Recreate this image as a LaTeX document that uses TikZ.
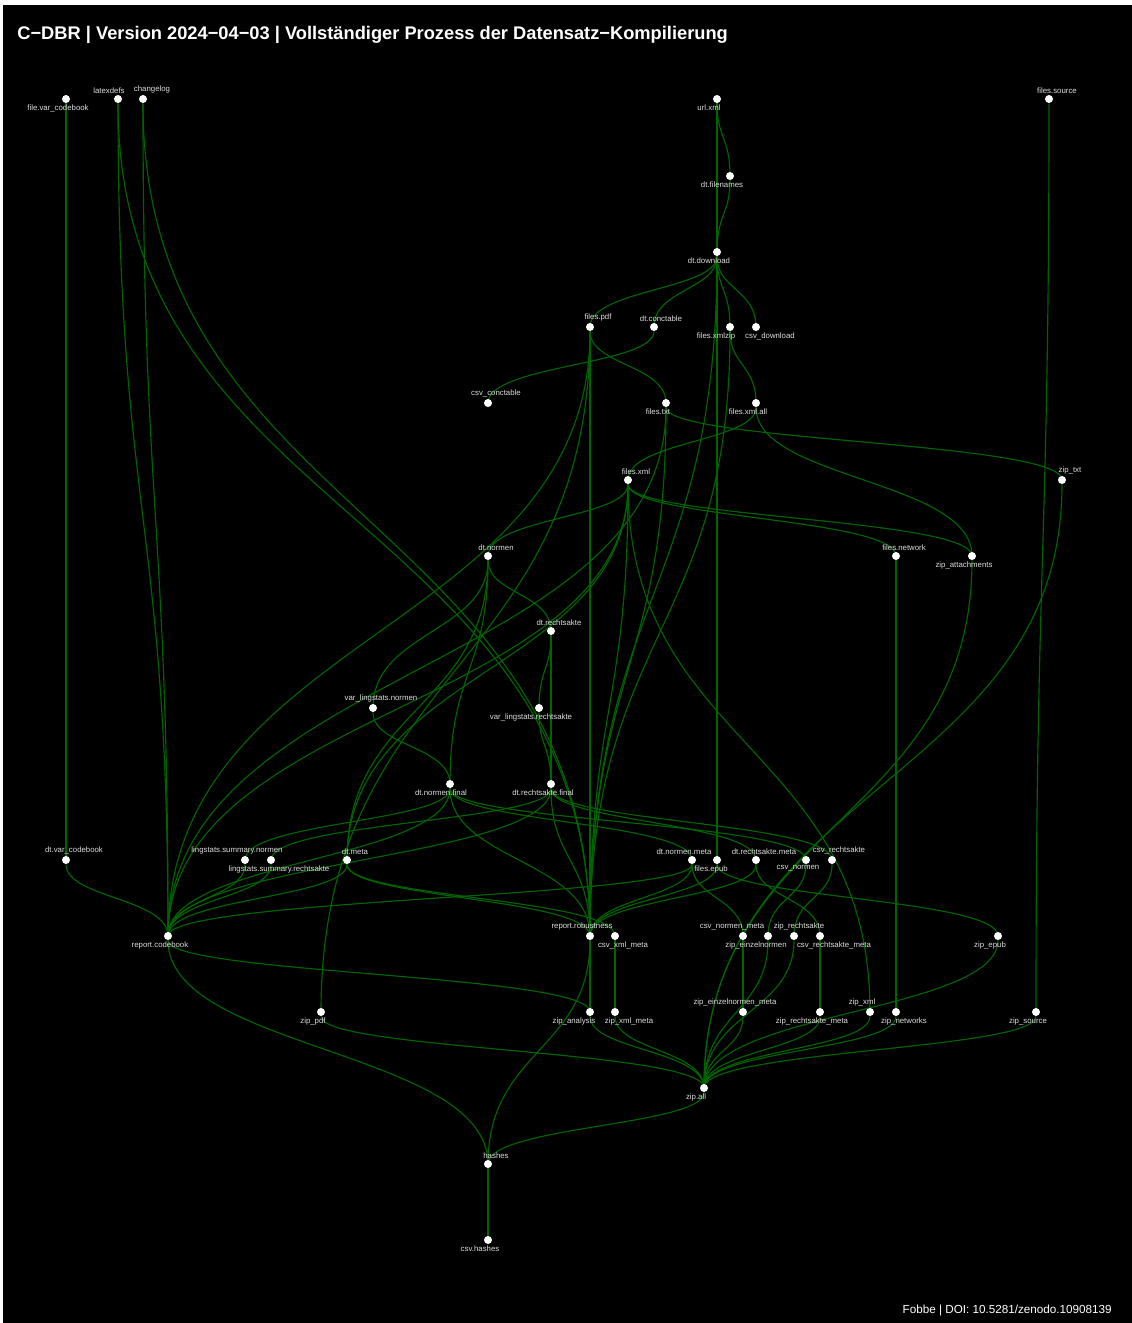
\documentclass[tikz,border=0pt]{standalone}
\usepackage{fontspec}
\setmainfont{Liberation Sans}
\usetikzlibrary{calc,backgrounds}

\definecolor{edgegreen}{RGB}{0,100,0}
\definecolor{labgrey}{RGB}{222,222,222}

\tikzset{
  dot/.style={circle, fill=white, inner sep=0pt, minimum size=0.16cm},
  lbl/.style={text=labgrey, font=\fontsize{4.45}{5}\selectfont, inner sep=0.3pt},
  tagup/.style 2 args={label={[lbl, xshift=#1*0.02cm]above:#2}},
  tagdn/.style 2 args={label={[lbl, xshift=#1*0.02cm]below:#2}},
  diag/.style={to path={let \p1=(\tikztostart), \p2=(\tikztotarget),
      \p3=($(\p1)!0.5!(\p2)$) in .. controls (\x1,\y3) and (\x2,\y3) .. (\p2)}},
  link/.style={draw=edgegreen, line width=0.65pt, diag}
}

\begin{document}
\begin{tikzpicture}[x=0.02cm, y=-0.02cm, label distance=0.01cm]
  % layer 1
  \node[dot, tagdn={-8}{file.var\_codebook}] (filevarcodebook) at (66,99) {};
  \node[dot, tagup={-9}{latexdefs}] (latexdefs) at (118,99) {};
  \node[dot, tagup={9}{changelog}] (changelog) at (143,99) {};
  \node[dot, tagdn={-8}{url.xml}] (urlxml) at (717,99) {};
  \node[dot, tagup={8}{files.source}] (filessource) at (1049,99) {};
  % download
  \node[dot, tagdn={-8}{dt.filenames}] (dtfilenames) at (730,176) {};
  \node[dot, tagdn={-8}{dt.download}] (dtdownload) at (717,252) {};
  \node[dot, tagup={8}{files.pdf}] (filespdf) at (590,327) {};
  \node[dot, tagup={7}{dt.conctable}] (dtconctable) at (654,327) {};
  \node[dot, tagdn={-14}{files.xmlzip}] (filesxmlzip) at (730,327) {};
  \node[dot, tagdn={14}{csv\_download}] (csvdownload) at (756,327) {};
  \node[dot, tagup={8}{csv\_conctable}] (csvconctable) at (488,403) {};
  \node[dot, tagdn={-8}{files.txt}] (filestxt) at (666,403) {};
  \node[dot, tagdn={-8}{files.xml.all}] (filesxmlall) at (756,403) {};
  \node[dot, tagup={8}{files.xml}] (filesxml) at (628,480) {};
  \node[dot, tagup={8}{zip\_txt}] (ziptxt) at (1062,480) {};
  % tables
  \node[dot, tagup={8}{dt.normen}] (dtnormen) at (488,556) {};
  \node[dot, tagup={8}{files.network}] (filesnetwork) at (896,556) {};
  \node[dot, tagdn={-8}{zip\_attachments}] (zipattach) at (972,556) {};
  \node[dot, tagup={8}{dt.rechtsakte}] (dtrechtsakte) at (551,631) {};
  \node[dot, tagup={8}{var\_lingstats.normen}] (varlsn) at (373,708) {};
  \node[dot, tagdn={-8}{var\_lingstats.rechtsakte}] (varlsr) at (539,708) {};
  \node[dot, tagdn={-9}{dt.normen.final}] (dtnormenfinal) at (450,784) {};
  \node[dot, tagdn={-8}{dt.rechtsakte.final}] (dtrechtsaktefinal) at (551,784) {};
  % meta and csv
  \node[dot, tagup={8}{dt.var\_codebook}] (dtvarcodebook) at (66,860) {};
  \node[dot, tagup={-8}{lingstats.summary.normen}] (lssn) at (245,860) {};
  \node[dot, tagdn={8}{lingstats.summary.rechtsakte}] (lssr) at (271,860) {};
  \node[dot, tagup={8}{dt.meta}] (dtmeta) at (347,860) {};
  \node[dot, tagup={-8}{dt.normen.meta}] (dtnormenmeta) at (692,860) {};
  \node[dot, tagdn={-6}{files.epub}] (filesepub) at (717,860) {};
  \node[dot, tagup={8}{dt.rechtsakte.meta}] (dtrechtsaktemeta) at (756,860) {};
  \node[dot, tagdn={-8}{csv\_normen}] (csvnormen) at (806,860) {};
  \node[dot, tagup={7}{csv\_rechtsakte}] (csvrechtsakte) at (832,860) {};
  % reports
  \node[dot, tagdn={-8}{report.codebook}] (reportcodebook) at (168,936) {};
  \node[dot, tagup={-8}{report.robustness}] (reportrobust) at (590,936) {};
  \node[dot, tagdn={8}{csv\_xml\_meta}] (csvxmlmeta) at (615,936) {};
  \node[dot, tagup={-11}{csv\_normen\_meta}] (csvnormenmeta) at (743,936) {};
  \node[dot, tagdn={-12}{zip\_einzelnormen}] (zipeinzelnormen) at (768,936) {};
  \node[dot, tagup={5}{zip\_rechtsakte}] (ziprechtsakte) at (794,936) {};
  \node[dot, tagdn={14}{csv\_rechtsakte\_meta}] (csvrechtsaktemeta) at (820,936) {};
  \node[dot, tagdn={-8}{zip\_epub}] (zipepub) at (998,936) {};
  % zip files
  \node[dot, tagdn={-8}{zip\_pdf}] (zippdf) at (321,1012) {};
  \node[dot, tagdn={-16}{zip\_analysis}] (zipanalysis) at (590,1012) {};
  \node[dot, tagdn={14}{zip\_xml\_meta}] (zipxmlmeta) at (615,1012) {};
  \node[dot, tagup={-8}{zip\_einzelnormen\_meta}] (zipeinzelnormenmeta) at (743,1012) {};
  \node[dot, tagdn={-8}{zip\_rechtsakte\_meta}] (ziprechtsaktemeta) at (820,1012) {};
  \node[dot, tagup={-8}{zip\_xml}] (zipxml) at (870,1012) {};
  \node[dot, tagdn={8}{zip\_networks}] (zipnetworks) at (896,1012) {};
  \node[dot, tagdn={-8}{zip\_source}] (zipsource) at (1036,1012) {};
  \node[dot, tagdn={-8}{zip.all}] (zipall) at (704,1088) {};
  \node[dot, tagup={8}{hashes}] (hashes) at (488,1164) {};
  \node[dot, tagdn={-8}{csv.hashes}] (csvhashes) at (488,1240) {};

  % title and credit
  \node[anchor=base west, inner sep=0pt, text=white,
        font=\fontsize{10.4}{12}\selectfont\bfseries] (title) at (17,39.5)
        {C−DBR | Version 2024−04−03 | Vollständiger Prozess der Datensatz−Kompilierung};
  \node[anchor=base east, inner sep=0pt, text=white,
        font=\fontsize{6.65}{8}\selectfont] (credit) at (1112,1313)
        {Fobbe | DOI: 10.5281/zenodo.10908139};

  \begin{scope}[on background layer]
    \useasboundingbox[fill=white] (0,0) rectangle (1132,1323);
    \fill[black] (3.5,5) rectangle (1132,1323);
    \path[link]
      (urlxml) edge (dtfilenames)
      (urlxml) edge (dtdownload)
      (dtfilenames) edge (dtdownload)
      (dtdownload) edge (filespdf)
      (dtdownload) edge (dtconctable)
      (dtdownload) edge (filesxmlzip)
      (dtdownload) edge (csvdownload)
      (dtdownload) edge (filesepub)
      (dtdownload) edge (reportrobust)
      (dtconctable) edge (csvconctable)
      (filespdf) edge (filestxt)
      (filespdf) edge (zippdf)
      (filespdf) edge (reportrobust)
      (filespdf) edge (reportcodebook)
      (filesxmlzip) edge (filesxmlall)
      (filesxmlzip) edge (reportrobust)
      (filestxt) edge (ziptxt)
      (filestxt) edge (reportcodebook)
      (filestxt) edge (reportrobust)
      (filesxmlall) edge (filesxml)
      (filesxmlall) edge (zipattach)
      (filesxml) edge (dtnormen)
      (filesxml) edge (filesnetwork)
      (filesxml) edge (zipattach)
      (filesxml) edge (zipxml)
      (filesxml) edge (reportcodebook)
      (filesxml) edge (reportrobust)
      (filesxml) edge (dtmeta)
      (dtnormen) edge (varlsn)
      (dtnormen) edge (dtnormenfinal)
      (dtnormen) edge (dtrechtsakte)
      (dtnormen) edge (dtmeta)
      (dtrechtsakte) edge (varlsr)
      (dtrechtsakte) edge (dtrechtsaktefinal)
      (varlsn) edge (dtnormenfinal)
      (varlsr) edge (dtrechtsaktefinal)
      (latexdefs) edge (reportcodebook)
      (changelog) edge (reportcodebook)
      (latexdefs) edge (reportrobust)
      (changelog) edge (reportrobust)
      (filevarcodebook) edge (dtvarcodebook)
      (dtvarcodebook) edge (reportcodebook)
      (filessource) edge (zipsource)
      (dtnormenfinal) edge (lssn)
      (dtnormenfinal) edge (dtnormenmeta)
      (dtnormenfinal) edge (csvnormen)
      (dtnormenfinal) edge (reportcodebook)
      (dtnormenfinal) edge (reportrobust)
      (dtrechtsaktefinal) edge (lssr)
      (dtrechtsaktefinal) edge (dtrechtsaktemeta)
      (dtrechtsaktefinal) edge (csvrechtsakte)
      (dtrechtsaktefinal) edge (reportcodebook)
      (dtrechtsaktefinal) edge (reportrobust)
      (lssn) edge (reportcodebook)
      (lssr) edge (reportcodebook)
      (dtmeta) edge (reportcodebook)
      (dtmeta) edge (reportrobust)
      (dtmeta) edge (csvxmlmeta)
      (dtnormenmeta) edge (reportcodebook)
      (dtnormenmeta) edge (reportrobust)
      (dtnormenmeta) edge (csvnormenmeta)
      (filesepub) edge (reportrobust)
      (filesepub) edge (zipepub)
      (dtrechtsaktemeta) edge (reportrobust)
      (dtrechtsaktemeta) edge (csvrechtsaktemeta)
      (csvnormen) edge (zipeinzelnormen)
      (csvrechtsakte) edge (ziprechtsakte)
      (reportcodebook) edge (zipanalysis)
      (reportcodebook) edge (hashes)
      (reportrobust) edge (zipanalysis)
      (reportrobust) edge (hashes)
      (csvxmlmeta) edge (zipxmlmeta)
      (csvnormenmeta) edge (zipeinzelnormenmeta)
      (csvrechtsaktemeta) edge (ziprechtsaktemeta)
      (filesnetwork) edge (zipnetworks)
      (zippdf) edge (zipall)
      (zipanalysis) edge (zipall)
      (zipxmlmeta) edge (zipall)
      (zipeinzelnormen) edge (zipall)
      (ziprechtsakte) edge (zipall)
      (zipeinzelnormenmeta) edge (zipall)
      (ziprechtsaktemeta) edge (zipall)
      (zipxml) edge (zipall)
      (zipnetworks) edge (zipall)
      (zipepub) edge (zipall)
      (zipsource) edge (zipall)
      (ziptxt) edge (zipall)
      (zipattach) edge (zipall)
      (zipall) edge (hashes)
      (hashes) edge (csvhashes);
  \end{scope}
\end{tikzpicture}
\end{document}
